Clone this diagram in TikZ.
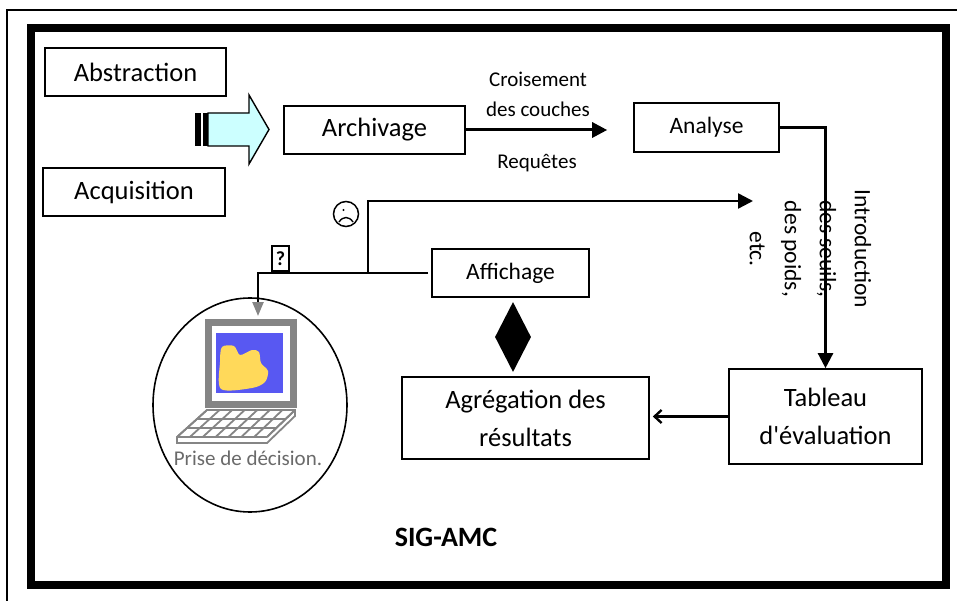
\documentclass[tikz,border=0pt]{standalone}
\usepackage{fontspec}
\setmainfont{Carlito}
\usetikzlibrary{arrows.meta,positioning,shapes.geometric}
\definecolor{sky}{HTML}{CCFFFF}
\definecolor{screenblue}{HTML}{5858F2}
\definecolor{blob}{HTML}{FFD95A}
\definecolor{dither}{HTML}{858585}

\begin{document}
\begin{tikzpicture}[x=1pt,y=-1pt,
 box/.style={draw,line width=1.6pt,inner sep=0pt,align=center},
 big/.style={font=\fontsize{26.5}{38}\selectfont},
 mid/.style={font=\fontsize{23.5}{35}\selectfont},
 small/.style={font=\fontsize{21}{30}\selectfont},
 link/.style={line width=2.4pt},
 tip/.style={-{Triangle[length=15pt,width=15pt]}}]
\useasboundingbox (0,0) rectangle (957,601);
% frames
\draw[line width=1.4pt] (7,601) -- (7,10) -- (957,10);
\draw[line width=8pt] (31,28) rectangle (946,585);
% boxes
\node[box,big,minimum width=181pt,minimum height=48pt] (abs) at (135.5,72) {Abstraction};
\node[box,big,minimum width=182pt,minimum height=48pt] (acq) at (134,192) {Acquisition};
\node[box,big,minimum width=181pt,minimum height=48pt] (arch) at (374.5,130) {Archivage};
\node[box,mid,minimum width=145pt,minimum height=49pt] (ana) at (706.5,127.5) {Analyse};
\node[box,mid,minimum width=157pt,minimum height=48pt] (aff) at (510.5,273) {Affichage};
\node[box,big,minimum width=193pt,minimum height=95pt] (tab) at (825.5,416.5) {Tableau\\d\textquotesingle évaluation};
\node[box,big,minimum width=247pt,minimum height=82pt] (agr) at (525.5,418) {Agrégation des\\résultats};
% block arrow into the archive
\fill (195,113) rectangle (201,146);
\fill (202.5,113) rectangle (208,146);
\draw[line width=1.4pt,fill=sky] (208,113) -- (249,113) -- (249,95) -- (269,129.5) -- (249,164) -- (249,146) -- (208,146) -- cycle;
% labels
\node[small,align=center] (cross) at (538,94) {Croisement\\des couches};
\node[small] (req) at (537,163) {Requêtes};
\node[mid,align=center,rotate=-90] (intro) at (810.5,249) {Introduction\\des seuils,\\des poids,\\etc.};
\node[font=\bfseries\fontsize{28}{28}\selectfont] (title) at (446,537) {SIG-AMC};
% flows
\draw[link,line width=3pt,tip] (arch.east) -- ([xshift=-26pt]arch.east -| ana.west);
\draw[link,tip] (ana.east) -| (tab.north);
\draw[link,-{Straight Barb[length=7pt,width=13pt]}] (tab.west) -- ([xshift=3pt]tab.west -| agr.east);
\node[diamond,fill,minimum width=36pt,minimum height=70pt,inner sep=0pt] (join) at (513,337) {};
% display back to the user
\coordinate (fork) at (368,273);
\coordinate (sadtip) at (753,201);
\coordinate (pc) at (258,316);
\draw[link,-{Triangle[length=14pt,width=11pt,color=dither]}] ([xshift=-3pt]aff.west) -| (pc);
\draw[link,tip] (fork) |- (sadtip);
\node[circle,draw,line width=1.5pt,minimum size=25pt,inner sep=0pt] (sad) at (346,214) {};
\fill (343.5,210) circle (1.2pt);
\draw[line width=1.4pt] (339,222) .. controls (343,216) and (349,216) .. (353,222);
\node[draw,line width=1.5pt,font=\bfseries\fontsize{20}{20}\selectfont,minimum width=17pt,minimum height=25pt,inner sep=0pt] (ask) at (280.5,258.5) {?};
% laptop
\node[ellipse,draw,line width=1.6pt,minimum width=194pt,minimum height=214pt] (ring) at (250,405) {};
\draw[dither,line width=7pt] (208.5,322.5) rectangle (293.5,404.5);
\fill[screenblue] (216,333) rectangle (283,393);
\fill[blob] plot[smooth cycle] coordinates {(222,347) (234,346) (240,355) (252,350) (259,352) (261,363) (268,371) (265,382) (252,388) (221,389) (220,362)};
\filldraw[dither,fill=white,line width=1.8pt] (207,410) -- (295,410) -- (295,416) -- (267,443) -- (177,443) -- (177,437) -- cycle;
\foreach \i in {0,1,2,3}
 \draw[dither,line width=1.8pt] (207-10*\i,410+9*\i) -- (295-9.33*\i,410+9*\i);
\foreach \j in {0,...,7}
 \draw[dither,line width=1.8pt] (207+12.57*\j,410) -- (177+12.86*\j,437);
\draw[dither,line width=1.8pt] (267,437) -- (295,410);
\node[small,text=dither!80!black] (decide) at (248,458) {Prise de décision.};
\end{tikzpicture}
\end{document}
